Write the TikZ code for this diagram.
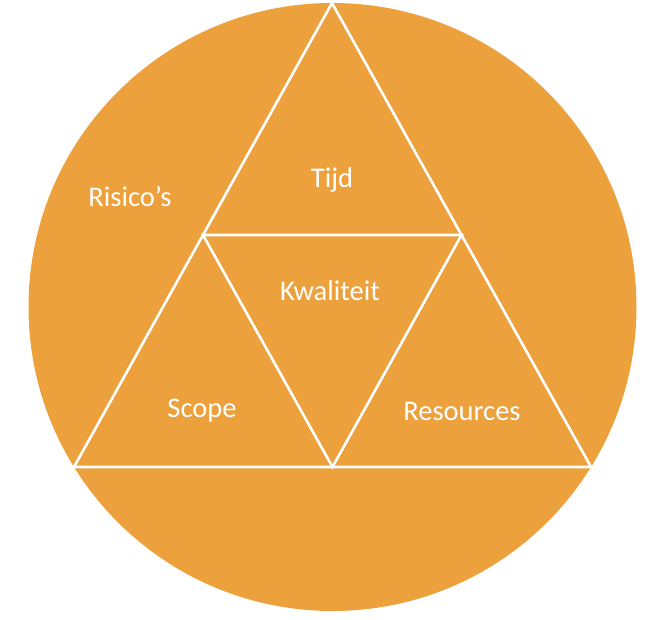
\documentclass[tikz,border=0pt]{standalone}
\usepackage{fontspec}
\setmainfont{Carlito}
\definecolor{orng}{HTML}{ECA13D}
\begin{document}
\begin{tikzpicture}[x=1pt,y=-1pt,
  lbl/.style={text=white,font=\fontsize{28.5}{34}\selectfont,inner sep=0pt},
  edge/.style={draw=white,line width=2.6pt,line join=miter}]
\useasboundingbox (0,0) rectangle (654,620);
\node[circle,fill=orng,minimum size=608pt,inner sep=0pt] (circ) at (332.5,307) {};
\coordinate (top) at (332,3);
\coordinate (bl) at (74,467);
\coordinate (br) at (591,467);
\coordinate (ml) at (203,235);
\coordinate (mr) at (461.5,235);
\coordinate (mb) at (332.5,467);
\fill[orng] (top) -- (bl) -- (br) -- cycle;
\draw[edge] (top) -- (bl) -- (br) -- cycle;
\draw[edge] (ml) -- (mr) -- (mb) -- cycle;
\node[lbl] (risico) at (130,197) {Risico’s};
\node[lbl] (tijd) at (332,180) {Tijd};
\node[lbl] (kwal) at (330,291) {Kwaliteit};
\node[lbl] (scope) at (202,411) {Scope};
\node[lbl] (res) at (462,411) {Resources};
\end{tikzpicture}
\end{document}
